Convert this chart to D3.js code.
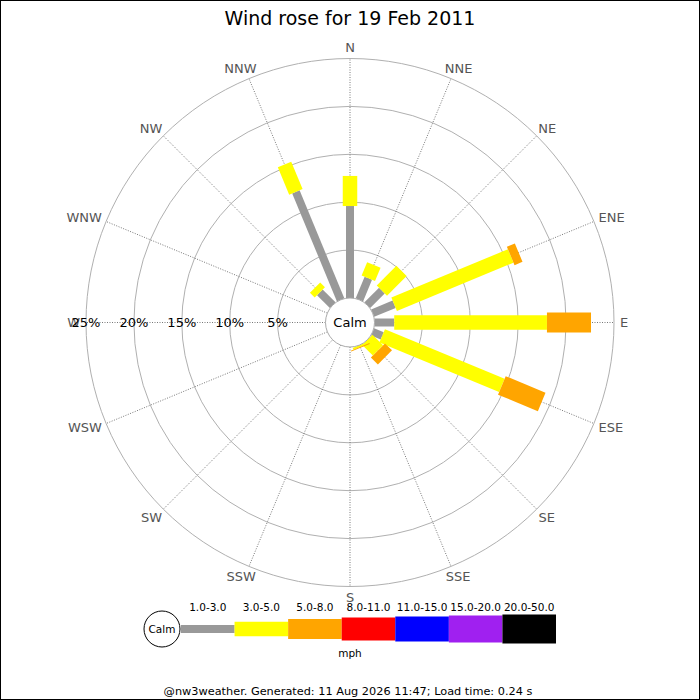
<!DOCTYPE html>
<html><head><meta charset="utf-8">
<script src="https://cdn.jsdelivr.net/npm/d3@7"></script>
<style>body{margin:0;background:#fff}svg{display:block;font-family:"DejaVu Sans",sans-serif}</style>
</head><body><svg id="c" width="700" height="700"></svg>
<script>
const title = "Wind rose for 19 Feb 2011";
const directions = ["N","NNE","NE","ENE","E","ESE","SE","SSE","S","SSW","SW","WSW","W","WNW","NW","NNW"];
const speedBins = ["1.0-3.0","3.0-5.0","5.0-8.0","8.0-11.0","11.0-15.0","15.0-20.0","20.0-50.0"];
// percentage of time per direction for each speed bin
const bin1_3   = [9.6,2.44,2.15,2.43,2.06,1.08,0,0,0,0,0,0,0,0,1.9,12.2];
const bin3_5   = [3.14,1.51,2.9,13.17,15.94,13.52,1.57,0.2,0,0,0,0,0,0,0.7,3.1];
const bin5_8   = [0,0,0,0.9,4.6,4.5,1.03,0.1,0,0,0,0,0,0,0,0];
const bin8_11  = [0,0,0,0,0,0,0,0,0,0,0,0,0,0,0,0];
const bin11_15 = [0,0,0,0,0,0,0,0,0,0,0,0,0,0,0,0];
const bin15_20 = [0,0,0,0,0,0,0,0,0,0,0,0,0,0,0,0];
const bin20_50 = [0,0,0,0,0,0,0,0,0,0,0,0,0,0,0,0];
const ringTicks = [5,10,15,20,25];
const unitLabel = "mph";
const footer = "@nw3weather. Generated: 11 Aug 2026 11:47; Load time: 0.24 s";

// styles
const binColors = ["#999999","#ffff00","#ffa500","#ff0000","#0000ff","#a020f0","#000000"];
const binWidths = [8,14.5,20,23,25,27,29];

const series = [bin1_3,bin3_5,bin5_8,bin8_11,bin11_15,bin15_20,bin20_50];
const svg = d3.select("#c");
const W = 700, H = 700, cx = 350, cy = 322.5, calmR = 24.5;
const r = d3.scaleLinear().domain([0,25]).range([calmR,264]);
const ang = d3.scaleBand().domain(directions).range([0,360]).paddingInner(0).align(0);
const angOf = d => ang(d); // degrees from north, clockwise (band start = direction centre)

svg.append("rect").attr("x",0.5).attr("y",0.5).attr("width",W-1).attr("height",H-1)
  .attr("fill","#fff").attr("stroke","#000");

svg.append("text").attr("x",cx).attr("y",25).attr("text-anchor","middle")
  .attr("font-size",19).attr("fill","#000").text(title);

const g = svg.append("g").attr("transform",`translate(${cx},${cy})`);

// rings
g.selectAll("circle.ring").data(ringTicks).join("circle").attr("class","ring")
  .attr("r",d=>r(d)).attr("fill","none").attr("stroke","#b0b0b0").attr("stroke-width",1);

// spokes
g.selectAll("line.spoke").data(directions).join("line").attr("class","spoke")
  .attr("x1",d=>calmR*Math.sin(angOf(d)*Math.PI/180))
  .attr("y1",d=>-calmR*Math.cos(angOf(d)*Math.PI/180))
  .attr("x2",d=>r(25)*Math.sin(angOf(d)*Math.PI/180))
  .attr("y2",d=>-r(25)*Math.cos(angOf(d)*Math.PI/180))
  .attr("stroke","#555").attr("stroke-width",0.8).attr("stroke-dasharray","1,1.5");

// bars
const stacked = [];
directions.forEach((dir,i)=>{
  let cum = 0;
  series.forEach((s,b)=>{
    const v = s[i];
    if (v>0) stacked.push({dir, b, r0:cum, r1:cum+v});
    cum += v;
  });
});
g.selectAll("rect.bar").data(stacked).join("rect").attr("class","bar")
  .attr("transform",d=>`rotate(${angOf(d.dir)})`)
  .attr("x",d=>-binWidths[d.b]/2).attr("width",d=>binWidths[d.b])
  .attr("y",d=>-r(d.r1)).attr("height",d=>Math.max(0.8,r(d.r1)-r(d.r0)))
  .attr("fill",d=>binColors[d.b]);

// calm circle
g.append("circle").attr("r",calmR).attr("fill","#fff").attr("stroke","#aaa").attr("stroke-width",1);
g.append("text").attr("y",0).attr("dy","0.35em").attr("text-anchor","middle")
  .attr("font-size",13).attr("fill","#000").text("Calm");

// direction labels
const lblR = 270;
g.selectAll("text.dir").data(directions).join("text").attr("class","dir")
  .attr("font-size",13).attr("fill","#555").attr("text-anchor","middle").attr("dy","0.36em")
  .text(d=>d)
  .each(function(d){
    const a = angOf(d)*Math.PI/180, w = this.getComputedTextLength(), h = 10;
    d3.select(this)
      .attr("x", lblR*Math.sin(a) + Math.sin(a)*w/2)
      .attr("y", -lblR*Math.cos(a) - Math.cos(a)*h/2);
  });

// percent labels
g.selectAll("text.pct").data(ringTicks).join("text").attr("class","pct")
  .attr("x",d=>-r(d)).attr("y",0).attr("dy","0.35em").attr("text-anchor","middle")
  .attr("font-size",13).attr("fill","#000").text(d=>d+"%");

// legend
const lx = d3.scaleBand().domain(speedBins).range([181,556]);
const ly = 629;
const lg = svg.append("g");
lg.selectAll("rect").data(speedBins).join("rect")
  .attr("x",d=>lx(d)).attr("width",lx.bandwidth())
  .attr("y",(d,i)=>ly-binWidths[i]/2).attr("height",(d,i)=>binWidths[i])
  .attr("fill",(d,i)=>binColors[i]);
lg.selectAll("text.bl").data(speedBins).join("text").attr("class","bl")
  .attr("x",d=>lx(d)+lx.bandwidth()/2).attr("y",607).attr("dy","0.35em")
  .attr("text-anchor","middle").attr("font-size",10.5).attr("fill","#000").text(d=>d);
lg.append("circle").attr("cx",162).attr("cy",ly).attr("r",18).attr("fill","#fff").attr("stroke","#000");
lg.append("text").attr("x",162).attr("y",ly).attr("dy","0.35em").attr("text-anchor","middle")
  .attr("font-size",10.5).attr("fill","#000").text("Calm");
lg.append("text").attr("x",350).attr("y",653).attr("dy","0.35em").attr("text-anchor","middle")
  .attr("font-size",10.5).attr("fill","#000").text(unitLabel);

svg.append("text").attr("x",348).attr("y",691).attr("dy","0.35em").attr("text-anchor","middle")
  .attr("font-size",11.3).attr("fill","#000").text(footer);
</script></body></html>
